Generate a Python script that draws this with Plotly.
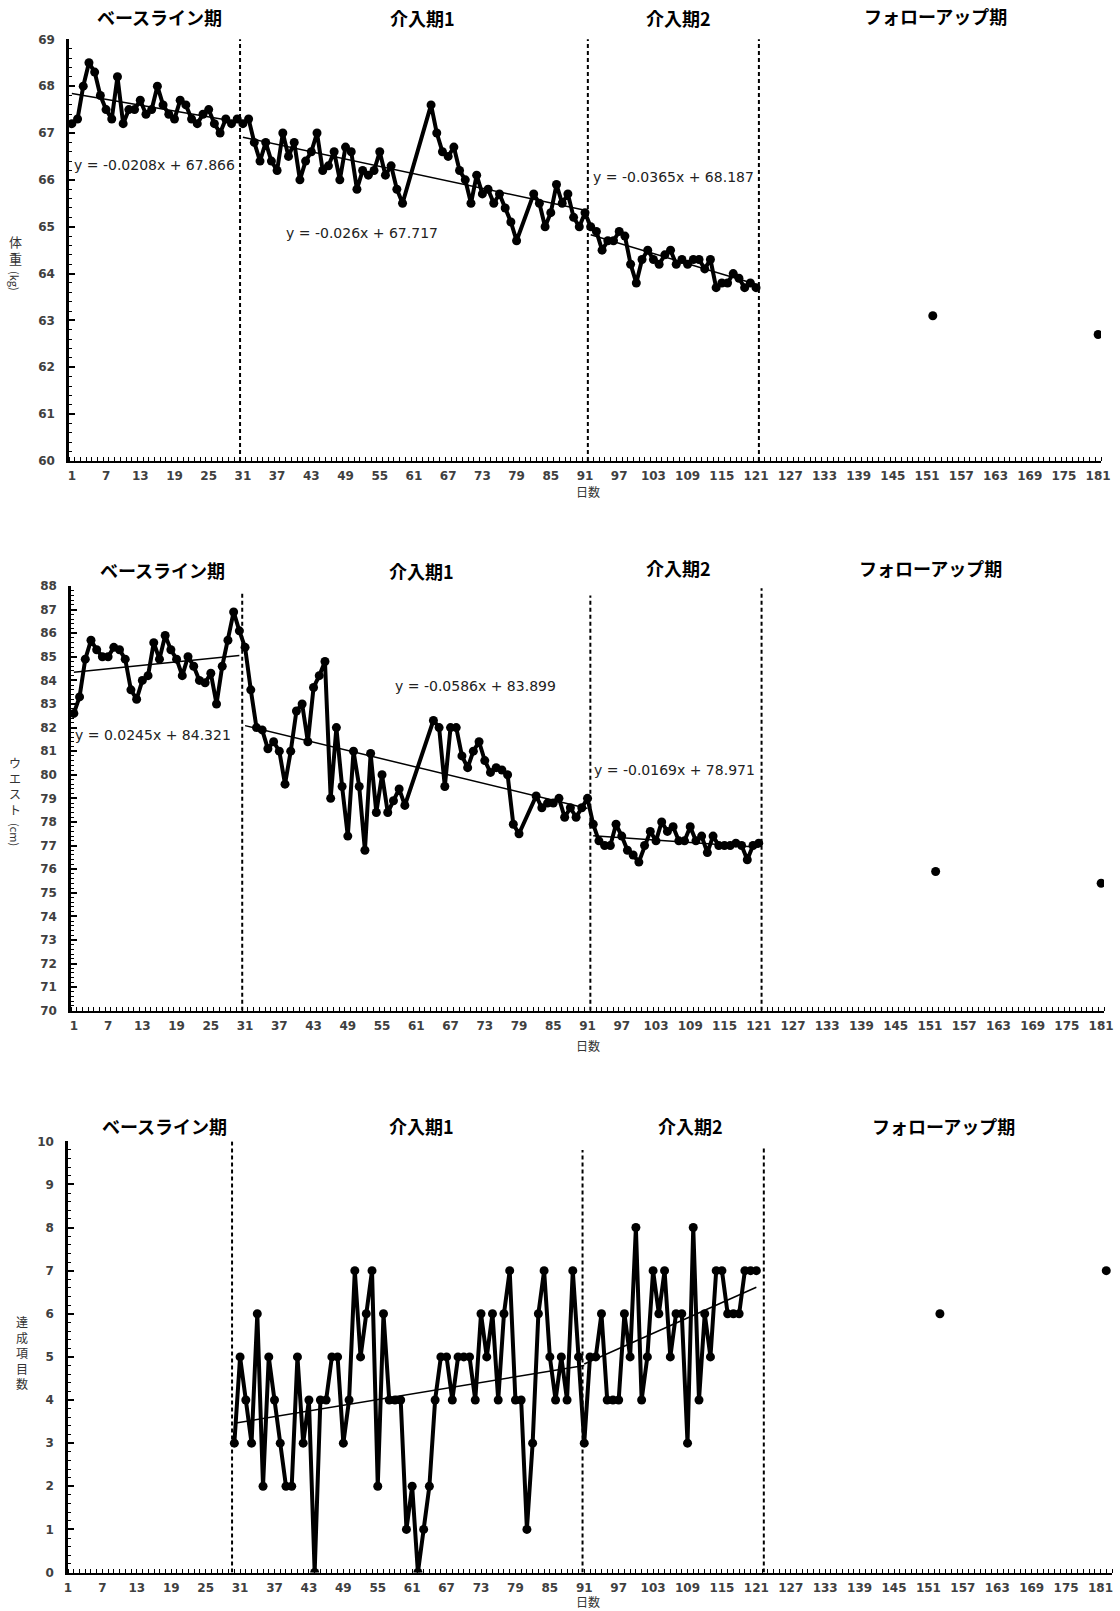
import plotly.graph_objects as go

W, H = 1120, 1611

# ---------------- data ----------------
x_tick_labels = [1, 7, 13, 19, 25, 31, 37, 43, 49, 55, 61, 67, 73, 79, 85, 91, 97, 103,
                 109, 115, 121, 127, 133, 139, 145, 151, 157, 163, 169, 175, 181]
phase_names = ["ベースライン期", "介入期1", "介入期2", "フォローアップ期"]

# chart 1 : body weight (kg)
days_base = list(range(1, 31))
days_int1 = list(range(31, 92))
days_int2 = list(range(92, 122))

weight_base = [67.2, 67.3, 68.0, 68.5, 68.3, 67.8, 67.5, 67.3, 68.2, 67.2,
               67.5, 67.5, 67.7, 67.4, 67.5, 68.0, 67.6, 67.4, 67.3, 67.7,
               67.6, 67.3, 67.2, 67.4, 67.5, 67.2, 67.0, 67.3, 67.2, 67.3]
weight_int1 = [67.2, 67.3, 66.8, 66.4, 66.8, 66.4, 66.2, 67.0, 66.5, 66.8,
               66.0, 66.4, 66.6, 67.0, 66.2, 66.3, 66.6, 66.0, 66.7, 66.6,
               65.8, 66.2, 66.1, 66.2, 66.6, 66.1, 66.3, 65.8, 65.5, None,
               None, None, None, 67.6, 67.0, 66.6, 66.5, 66.7, 66.2, 66.0,
               65.5, 66.1, 65.7, 65.8, 65.5, 65.7, 65.4, 65.1, 64.7, None,
               None, 65.7, 65.5, 65.0, 65.3, 65.9, 65.5, 65.7, 65.2, 65.0,
               65.3]
weight_int2 = [65.0, 64.9, 64.5, 64.7, 64.7, 64.9, 64.8, 64.2, 63.8, 64.3,
               64.5, 64.3, 64.2, 64.4, 64.5, 64.2, 64.3, 64.2, 64.3, 64.3,
               64.1, 64.3, 63.7, 63.8, 63.8, 64.0, 63.9, 63.7, 63.8, 63.7]
weight_follow_days = [152, 181]
weight_follow = [63.1, 62.7]
weight_trend_slope = [-0.0208, -0.026, -0.0365]
weight_trend_icpt = [67.866, 67.717, 68.187]

# chart 2 : waist (cm)
waist_base = [82.6, 83.3, 84.9, 85.7, 85.3, 85.0, 85.0, 85.4, 85.3, 84.9,
              83.6, 83.2, 84.0, 84.2, 85.6, 84.9, 85.9, 85.3, 84.9, 84.2,
              85.0, 84.6, 84.0, 83.9, 84.3, 83.0, 84.6, 85.7, 86.9, 86.1]
waist_int1 = [85.4, 83.6, 82.0, 81.9, 81.1, 81.4, 81.0, 79.6, 81.0, 82.7,
              83.0, 81.4, 83.7, 84.2, 84.8, 79.0, 82.0, 79.5, 77.4, 81.0,
              79.5, 76.8, 80.9, 78.4, 80.0, 78.4, 78.9, 79.4, 78.7, None,
              None, None, None, 82.3, 82.0, 79.5, 82.0, 82.0, 80.8, 80.3,
              81.0, 81.4, 80.6, 80.1, 80.3, 80.2, 80.0, 77.9, 77.5, None,
              None, 79.1, 78.6, 78.8, 78.8, 79.0, 78.2, 78.6, 78.2, 78.6,
              79.0]
waist_int2 = [77.9, 77.2, 77.0, 77.0, 77.9, 77.4, 76.8, 76.6, 76.3, 77.0,
              77.6, 77.2, 78.0, 77.6, 77.8, 77.2, 77.2, 77.8, 77.2, 77.4,
              76.7, 77.4, 77.0, 77.0, 77.0, 77.1, 77.0, 76.4, 77.0, 77.1]
waist_follow_days = [152, 181]
waist_follow = [75.9, 75.4]
waist_trend_slope = [0.0245, -0.0586, -0.0169]
waist_trend_icpt = [84.321, 83.899, 78.971]

# chart 3 : number of achieved items
ach_days_int1 = list(range(30, 91))
ach_days_int2 = list(range(91, 122))
ach_int1 = [3, 5, 4, 3, 6, 2, 5, 4, 3, 2,
            2, 5, 3, 4, 0, 4, 4, 5, 5, 3,
            4, 7, 5, 6, 7, 2, 6, 4, 4, 4,
            1, 2, 0, 1, 2, 4, 5, 5, 4, 5,
            5, 5, 4, 6, 5, 6, 4, 6, 7, 4,
            4, 1, 3, 6, 7, 5, 4, 5, 4, 7,
            5]
ach_int2 = [3, 5, 5, 6, 4, 4, 4, 6, 5, 8,
            4, 5, 7, 6, 7, 5, 6, 6, 3, 8,
            4, 6, 5, 7, 7, 6, 6, 6, 7, 7,
            7]
ach_follow_days = [153, 182]
ach_follow = [6, 7]
ach_trend_slope = [0.022, 0.0593]
ach_trend_icpt = [2.80, -0.56]

# ---------------- layout helpers ----------------
def px(x, y):
    return x / W, 1 - y / H

charts = [
    dict(xdom=(69, 1101), ydom=(39.3, 461), xr=[0.5, 181.5], yr=[60, 69], minor0=0.5,
         bounds=[30.5, 91.5, 121.5], btop=[69.06, 69.06, 69.06]),
    dict(xdom=(71, 1104), ydom=(586, 1010.7), xr=[0.5, 181.5], yr=[70, 88], minor0=0.5,
         bounds=[30.5, 91.5, 121.5], btop=[87.8, 87.6, 87.9]),
    dict(xdom=(68, 1112), ydom=(1141.3, 1572.5), xr=[1, 183], yr=[0, 10], minor0=1,
         bounds=[29.6, 90.7, 122.3], btop=[10.0, 9.8, 9.85]),
]

fig = go.Figure()
tick_font = dict(family="DejaVu Sans", size=12, color="#404040", weight="bold")

def add_series(k, days, vals, fdays, fvals, trend_spans, slopes, icpts):
    xa, ya = ("x", "y") if k == 1 else (f"x{k}", f"y{k}")
    fig.add_trace(go.Scatter(x=days, y=vals, xaxis=xa, yaxis=ya, mode="lines+markers",
                             connectgaps=True, line=dict(color="black", width=4),
                             marker=dict(color="black", size=9), showlegend=False))
    fig.add_trace(go.Scatter(x=fdays, y=fvals, xaxis=xa, yaxis=ya, mode="markers",
                             marker=dict(color="black", size=9), showlegend=False))
    for (x0, x1), a, b in zip(trend_spans, slopes, icpts):
        fig.add_trace(go.Scatter(x=[x0, x1], y=[a * x0 + b, a * x1 + b], xaxis=xa, yaxis=ya,
                                 mode="lines", line=dict(color="black", width=1.5),
                                 showlegend=False))

add_series(1, days_base + days_int1 + days_int2, weight_base + weight_int1 + weight_int2,
           weight_follow_days, weight_follow,
           [(days_base[0], days_base[-1]), (days_int1[0], days_int1[-1]), (days_int2[0], days_int2[-1])],
           weight_trend_slope, weight_trend_icpt)
add_series(2, days_base + days_int1 + days_int2, waist_base + waist_int1 + waist_int2,
           waist_follow_days, waist_follow,
           [(days_base[0], days_base[-1]), (days_int1[0], days_int1[-1]), (days_int2[0], days_int2[-1])],
           waist_trend_slope, waist_trend_icpt)
add_series(3, ach_days_int1 + ach_days_int2, ach_int1 + ach_int2,
           ach_follow_days, ach_follow,
           [(ach_days_int1[0], ach_days_int1[-1] + 1), (ach_days_int2[0], ach_days_int2[-1])],
           ach_trend_slope, ach_trend_icpt)

layout = {}
shapes = []
for i, c in enumerate(charts, start=1):
    sfx = "" if i == 1 else str(i)
    x0p, _ = px(c["xdom"][0], 0)
    x1p, _ = px(c["xdom"][1], 0)
    _, ytop = px(0, c["ydom"][0])
    _, ybot = px(0, c["ydom"][1])
    layout["xaxis" + sfx] = dict(
        domain=[x0p, x1p], range=c["xr"], anchor="y" + sfx, automargin=False,
        showline=True, linecolor="black", linewidth=2, showgrid=False, zeroline=False,
        tickmode="array", tickvals=x_tick_labels, ticktext=[str(v) for v in x_tick_labels],
        ticks="", tickfont=tick_font, ticklabelstandoff=3,
        minor=dict(ticks="inside", tick0=c["minor0"], dtick=1, ticklen=4, tickwidth=1,
                   tickcolor="black", showgrid=False),
    )
    layout["yaxis" + sfx] = dict(
        domain=[ybot, ytop], range=c["yr"], anchor="x" + sfx, automargin=False,
        showline=True, linecolor="black", linewidth=2.5, showgrid=False, zeroline=False,
        dtick=1, ticks="inside", ticklen=6, tickwidth=1.5, tickcolor="black",
        tickfont=tick_font, ticklabelstandoff=9,
        minor=dict(ticks="inside", dtick=0.2, ticklen=3, tickwidth=1, tickcolor="black",
                   showgrid=False),
    )
    for bx, bt in zip(c["bounds"], c["btop"]):
        shapes.append(dict(type="line", xref="x" + sfx, yref="y" + sfx, x0=bx, x1=bx,
                           y0=c["yr"][0], y1=bt,
                           line=dict(color="black", width=2, dash="4px,3px")))

ann = []
def text(x, y, s, size=12, bold=False, family="Noto Sans CJK JP", color="black", angle=0):
    xp, yp = px(x, y)
    ann.append(dict(x=xp, y=yp, xref="paper", yref="paper", text=s, showarrow=False,
                    xanchor="center", yanchor="middle", textangle=angle,
                    font=dict(family=family, size=size, color=color,
                              weight="bold" if bold else "normal")))

# phase titles
title_pos = [
    [(159, 17), (422, 18), (678, 18), (935, 16)],
    [(162, 570), (421, 571), (678, 568), (930, 568)],
    [(164, 1126), (421, 1126), (690, 1126), (943, 1126)],
]
for row in title_pos:
    for (x, y), name in zip(row, phase_names):
        text(x, y, name, size=18, bold=True)

# trend equations
eq_font = "DejaVu Sans"
for (x, y), a, b in zip([(154, 165), (362, 233), (673, 177)], weight_trend_slope, weight_trend_icpt):
    text(x, y, f"y = {a}x + {b}", size=14, family=eq_font, color="#222")
for (x, y), a, b in zip([(153, 735), (475, 686), (674, 770)], waist_trend_slope, waist_trend_icpt):
    text(x, y, f"y = {a}x + {b}", size=14, family=eq_font, color="#222")

# axis titles
text(15, 250, "体<br>重", size=13, color="#333")
text(15, 281, "(kg)", size=11, color="#333", angle=90)
text(15, 786, "ウ<br>エ<br>ス<br>ト", size=12, color="#333")
text(15, 834, "(cm)", size=11, color="#333", angle=90)
text(22, 1352, "達<br>成<br>項<br>目<br>数", size=12, color="#333")
for y in (491, 1045, 1601):
    text(588, y, "日数", size=12, color="#333")

fig.update_layout(width=W, height=H, margin=dict(l=0, r=0, t=0, b=0, pad=0),
                  autosize=False,
                  paper_bgcolor="white", plot_bgcolor="white",
                  shapes=shapes, annotations=ann, **layout)

fig.write_html("out.html", config={"displayModeBar": False},
               post_script="document.body.style.margin='0';document.body.style.padding='0';")
